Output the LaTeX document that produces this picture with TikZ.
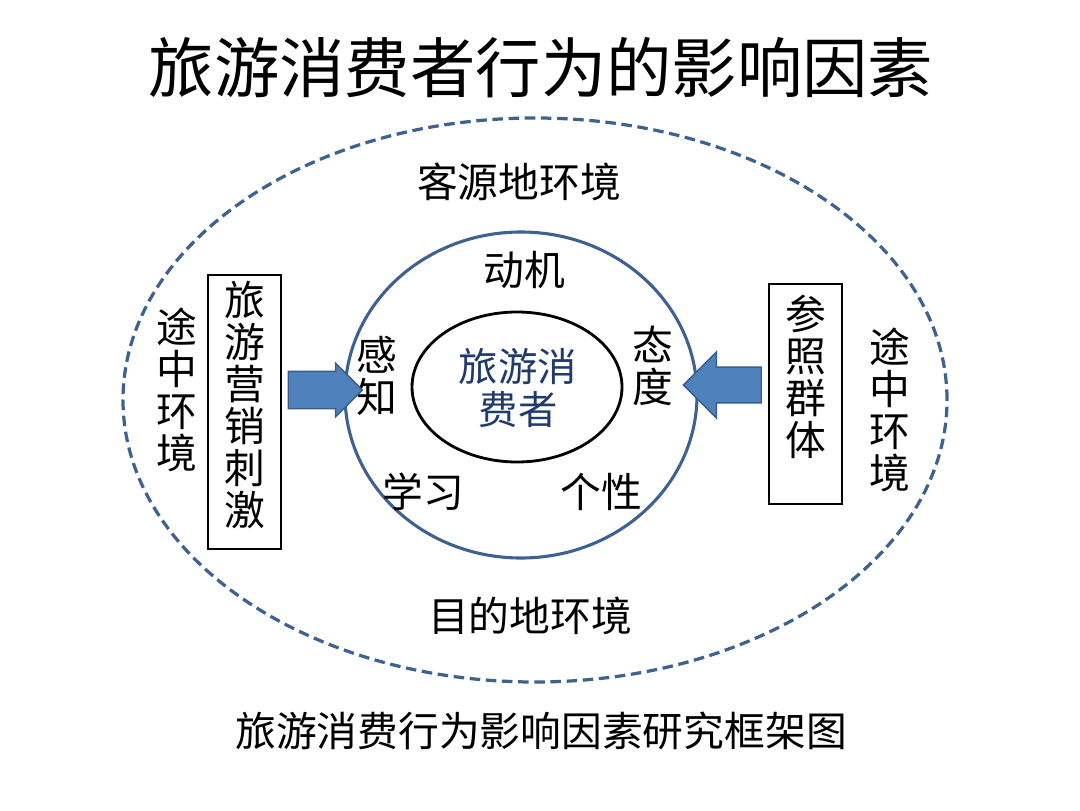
\documentclass[tikz,border=0pt]{standalone}
\usepackage{fontspec}
\setmainfont{Noto Sans CJK SC}
\usetikzlibrary{shapes.arrows,shapes.geometric}
\definecolor{ring}{HTML}{3D6291}
\definecolor{navy}{HTML}{1F3A6B}
\definecolor{arrowfill}{HTML}{4F81BD}
\definecolor{arrowline}{HTML}{385D8A}

\begin{document}
\begin{tikzpicture}[x=1cm,y=1cm,font=\fontsize{29}{30}\selectfont,
 txt/.style={align=center,inner sep=0pt},
 box/.style={draw=black,line width=1pt,minimum width=1.825cm,inner sep=0pt},
 push/.style={single arrow,fill=arrowfill,draw=arrowline,line width=1pt,inner sep=0pt,single arrow tip angle=90}]
\path[use as bounding box] (0,0) rectangle (27,20.25);
\node[txt,font=\fontsize{46.5}{48}\selectfont] (title) at (13.525,18.55) {旅游消费者行为的影响因素};

% environments: dashed outer ring and the consumer's inner circle
\draw[ring,line width=2.3pt,dash pattern=on 7.5pt off 4pt] (13.375,10.25) ellipse [x radius=10.3,y radius=7.05];
\draw[ring,line width=2.2pt] (13.025,10.375) ellipse [x radius=4.4,y radius=4.075];
\node[draw=black,line width=2pt,ellipse,minimum width=5.25cm,minimum height=3.75cm] (core) at (12.925,10.575) {};
\node[txt,text=navy,font=\fontsize{28}{31}\selectfont] (consumer) at (12.95,10.55) {旅游消\\费者};

\node[txt] (origin) at (12.975,15.7) {客源地环境};
\node[txt] (dest) at (13.25,4.85) {目的地环境};
\node[txt] (transitL) at (4.425,10.5) {途\\中\\环\\境};
\node[txt] (transitR) at (22.25,10.0) {途\\中\\环\\境};

% psychological factors round the core
\node[txt] (motive) at (13.1,13.5) {动机};
\node[txt] (percept) at (9.425,10.85) {感\\知};
\node[txt] (attitude) at (16.325,11.1) {态\\度};
\node[txt] (learning) at (10.575,7.95) {学习};
\node[txt] (persona) at (15.025,7.95) {个性};

% outside stimuli and the block arrows pointing in
\node[box,minimum height=6.85cm] (mktbox) at (6.1125,9.95) {};
\node[txt] (mkt) at ([yshift=.175cm]mktbox.center) {旅\\游\\营\\销\\刺\\激};
\node[box,minimum height=5.5cm] (refbox) at (20.1375,10.4) {};
\node[txt] (ref) at ([yshift=.43cm]refbox.center) {参\\照\\群\\体};

\node[push,minimum height=1.85cm,inner ysep=.45cm,single arrow head extend=.2cm] (pushL) at (7.9,10.5) {};
\node[push,shape border rotate=180,minimum height=1.95cm,inner ysep=.43cm,single arrow head extend=.38cm] (pushR) at (18.28,10.625) {};

\node[txt] (caption) at (13.525,1.975) {旅游消费行为影响因素研究框架图};
\end{tikzpicture}
\end{document}
